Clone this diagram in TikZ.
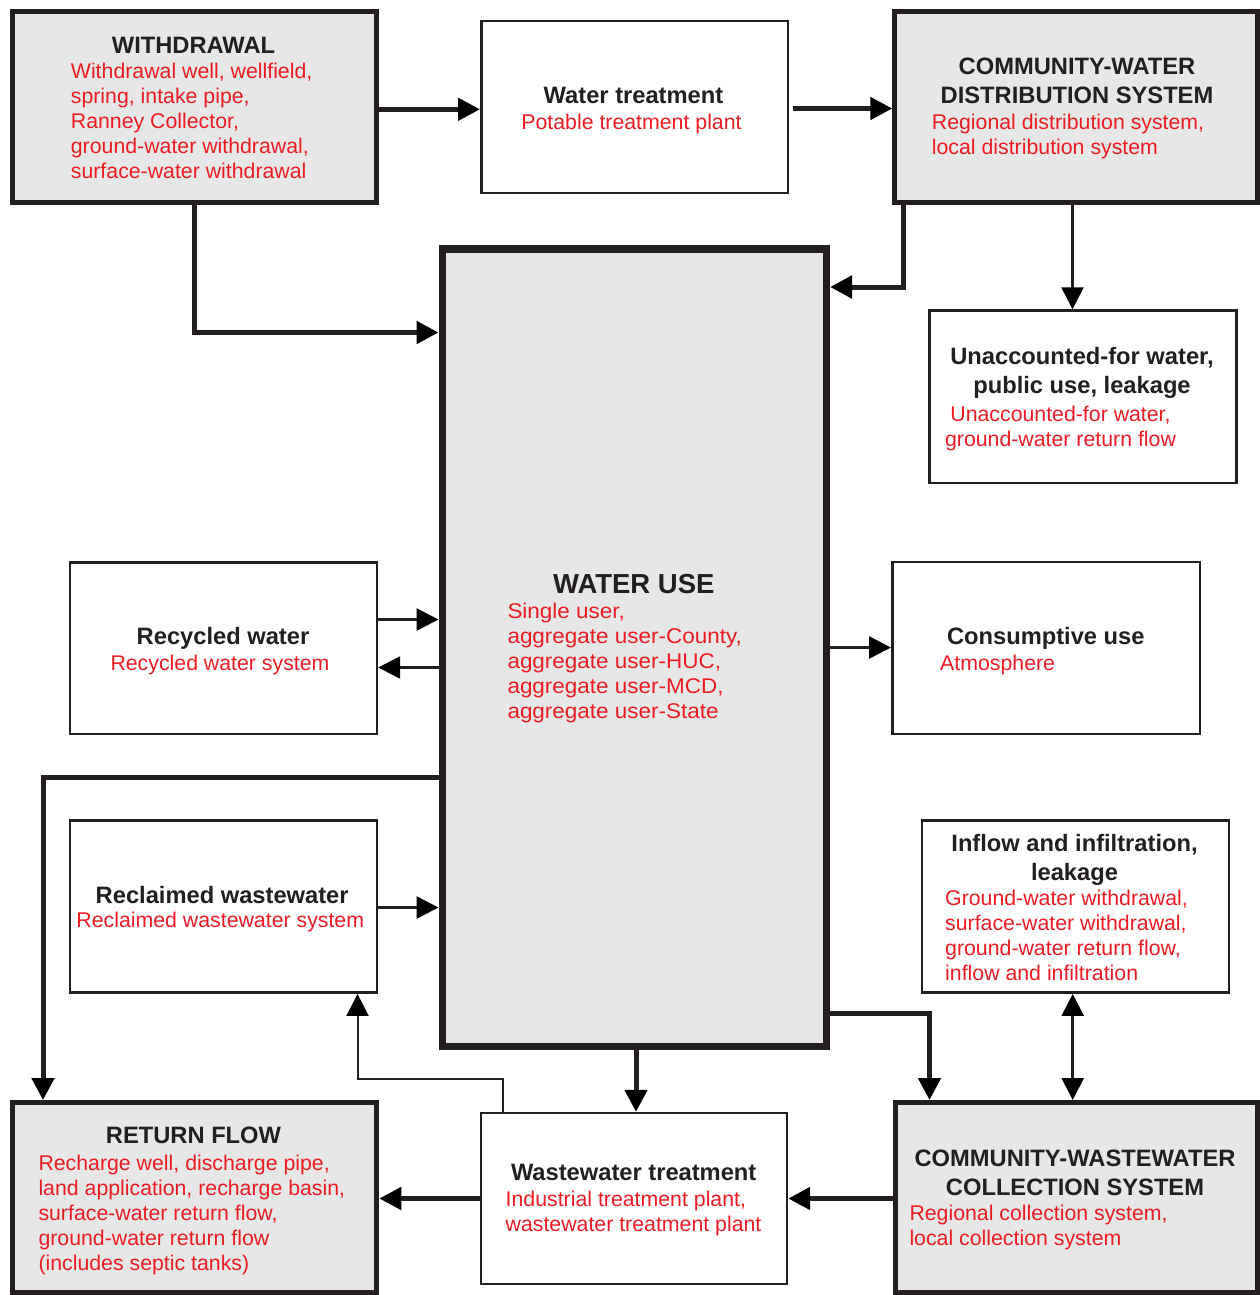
\documentclass[tikz,border=0pt]{standalone}
\usepackage{fontspec}
\setmainfont{Liberation Sans}
\usetikzlibrary{arrows.meta}
\definecolor{ink}{RGB}{35,31,32}
\definecolor{boxgray}{RGB}{230,231,230}
\definecolor{redtxt}{RGB}{237,28,36}
\newcommand{\mylines}[2]{\begin{tabular}[t]{@{}#1@{}}#2\end{tabular}}
\begin{document}
\begin{tikzpicture}[x=1pt,y=-1pt,
  >={Triangle[length=22pt,width=22pt,color=black]},
  thickbox/.style={rectangle, draw=ink, fill=boxgray, line width=5pt, inner sep=0pt},
  thinbox/.style={rectangle, draw=ink, fill=white, line width=2.5pt, inner sep=0pt},
  usebox/.style={rectangle, draw=ink, fill=boxgray, line width=7.5pt, inner sep=0pt},
  ttl/.style={anchor=base, inner sep=0pt, text=ink, font=\fontsize{23.7}{29}\selectfont\bfseries},
  bigttl/.style={anchor=base, inner sep=0pt, text=ink, font=\fontsize{27.5}{33}\selectfont\bfseries},
  rtxt/.style={anchor=base west, inner sep=0pt, text=redtxt, font=\fontsize{21.3}{25}\selectfont},
  rtxtc/.style={anchor=base, inner sep=0pt, text=redtxt, font=\fontsize{21.3}{25}\selectfont},
  thickarrow/.style={->, draw=ink, line width=5pt},
  thinarrow/.style={->, draw=ink, line width=2.5pt},
  slimarrow/.style={->, draw=ink, line width=2pt},
]
\useasboundingbox (0,0) rectangle (1260,1295);

% ---------- boxes ----------
\node[thickbox, minimum width=364pt,   minimum height=191pt]    (wd)  at (194.5,107)    {};
\node[thinbox,  minimum width=306.5pt, minimum height=171.5pt]  (wt)  at (634.5,107)    {};
\node[thickbox, minimum width=362.7pt, minimum height=191pt]    (cw)  at (1076.15,107)  {};
\node[usebox,   minimum width=384pt,   minimum height=797.5pt]  (wu)  at (634.25,647.5) {};
\node[thinbox,  minimum width=306.9pt, minimum height=172.2pt]  (ua)  at (1083,396.65)  {};
\node[thinbox,  minimum width=306.75pt,minimum height=171.5pt]  (rc)  at (223.6,648)    {};
\node[thinbox,  minimum width=307.5pt, minimum height=171.75pt] (cu)  at (1046,647.9)   {};
\node[thinbox,  minimum width=306.75pt,minimum height=172.25pt] (rw)  at (223.6,906.6)  {};
\node[thinbox,  minimum width=306.8pt, minimum height=172.25pt] (ii)  at (1075.35,906.6){};
\node[thickbox, minimum width=364.3pt, minimum height=190pt]    (rf)  at (194.65,1197.5){};
\node[thinbox,  minimum width=305.75pt,minimum height=170.75pt] (ww)  at (634.1,1198.4) {};
\node[thickbox, minimum width=362.3pt, minimum height=190pt]    (cww) at (1076.35,1197.5){};

% ---------- texts ----------
\node[ttl]  (t-wd) at (193.5,54) {WITHDRAWAL};
\node[rtxt] (r-wd) at (70.7,79) {\mylines{l}{Withdrawal well, wellfield,\\spring, intake pipe,\\Ranney Collector,\\ground-water withdrawal,\\surface-water withdrawal}};

\node[ttl]   (t-wt) at (633.5,104) {Water treatment};
\node[rtxtc] (r-wt) at (631.5,129) {Potable treatment plant};

\node[ttl]  (t-cw) at (1077,75) {\mylines{c}{COMMUNITY-WATER\\DISTRIBUTION SYSTEM}};
\node[rtxt] (r-cw) at (931.7,129) {\mylines{l}{Regional distribution system,\\local distribution system}};

\node[ttl]   (t-ua) at (1082,364) {\mylines{c}{Unaccounted-for water,\\public use, leakage}};
\node[rtxtc] (r-ua) at (1060.5,421.7) {\mylines{c}{Unaccounted-for water,\\ground-water return flow}};

\node[bigttl] (t-wu) at (633.8,593.3) {WATER USE};
\node[rtxt]   (r-wu) at (507.3,618.3) {\scalebox{1.055}[1]{\mylines{l}{Single user,\\aggregate user-County,\\aggregate user-HUC,\\aggregate user-MCD,\\aggregate user-State}}};

\node[ttl]   (t-rc) at (223,644) {Recycled water};
\node[rtxtc] (r-rc) at (220,670) {Recycled water system};

\node[ttl]  (t-cu) at (1045.8,644) {Consumptive use};
\node[rtxt] (r-cu) at (940,670) {Atmosphere};

\node[ttl]   (t-rw) at (222.2,903.3) {Reclaimed wastewater};
\node[rtxtc] (r-rw) at (220.3,927.7) {Reclaimed wastewater system};

\node[ttl]  (t-ii) at (1074.5,851) {\mylines{c}{Inflow and infiltration,\\leakage}};
\node[rtxt] (r-ii) at (945,905) {\mylines{l}{Ground-water withdrawal,\\surface-water withdrawal,\\ground-water return flow,\\inflow and infiltration}};

\node[ttl]  (t-rf) at (193.5,1143.3) {RETURN FLOW};
\node[rtxt] (r-rf) at (38.3,1170) {\mylines{l}{Recharge well, discharge pipe,\\land application, recharge basin,\\surface-water return flow,\\ground-water return flow\\(includes septic tanks)}};

\node[ttl]  (t-ww) at (633.7,1180.5) {Wastewater treatment};
\node[rtxt] (r-ww) at (505.5,1206) {\mylines{l}{Industrial treatment plant,\\wastewater treatment plant}};

\node[ttl]  (t-cww) at (1075,1166.7) {\mylines{c}{COMMUNITY-WASTEWATER\\COLLECTION SYSTEM}};
\node[rtxt] (r-cww) at (909.3,1220) {\mylines{l}{Regional collection system,\\local collection system}};

% ---------- connectors ----------
\draw[thickarrow] (wd.east |- 0,109.3) -- (wt.west |- 0,109.3);
\draw[thickarrow, shorten <=4pt] (wt.east |- 0,108.5) -- (cw.west |- 0,108.5);
\draw[thickarrow] (wd.south -| 194,0) |- (wu.west |- 0,332.5);
\draw[thickarrow] (cw.south -| 903,0) |- (wu.east |- 0,287);
\draw[thinarrow]  (cw.south -| 1072.5,0) -- (ua.north -| 1072.5,0);
\draw[thinarrow]  (rc.east |- 0,619.5) -- (wu.west |- 0,619.5);
\draw[thinarrow]  (wu.west |- 0,667.5) -- (rc.east |- 0,667.5);
\draw[thinarrow]  (wu.east |- 0,647.5) -- (cu.west |- 0,647.5);
\draw[thickarrow] (wu.west |- 0,777.5) -| (rf.north -| 43,0);
\draw[thinarrow]  (rw.east |- 0,907.5) -- (wu.west |- 0,907.5);
\draw[thickarrow] (wu.south -| 636,0) -- (ww.north -| 636,0);
\draw[thickarrow] (wu.east |- 0,1013.5) -| (cww.north -| 929.5,0);
\draw[thinarrow, <->] (ii.south -| 1072.7,0) -- (cww.north -| 1072.7,0);
\draw[thickarrow] (ww.west |- 0,1198.5) -- (rf.east |- 0,1198.5);
\draw[thickarrow] (cww.west |- 0,1198.5) -- (ww.east |- 0,1198.5);
\coordinate (bend) at (503,1079);
\draw[slimarrow] (ww.north -| bend) -- (bend) -| (rw.south -| 357.5,0);
\end{tikzpicture}
\end{document}
